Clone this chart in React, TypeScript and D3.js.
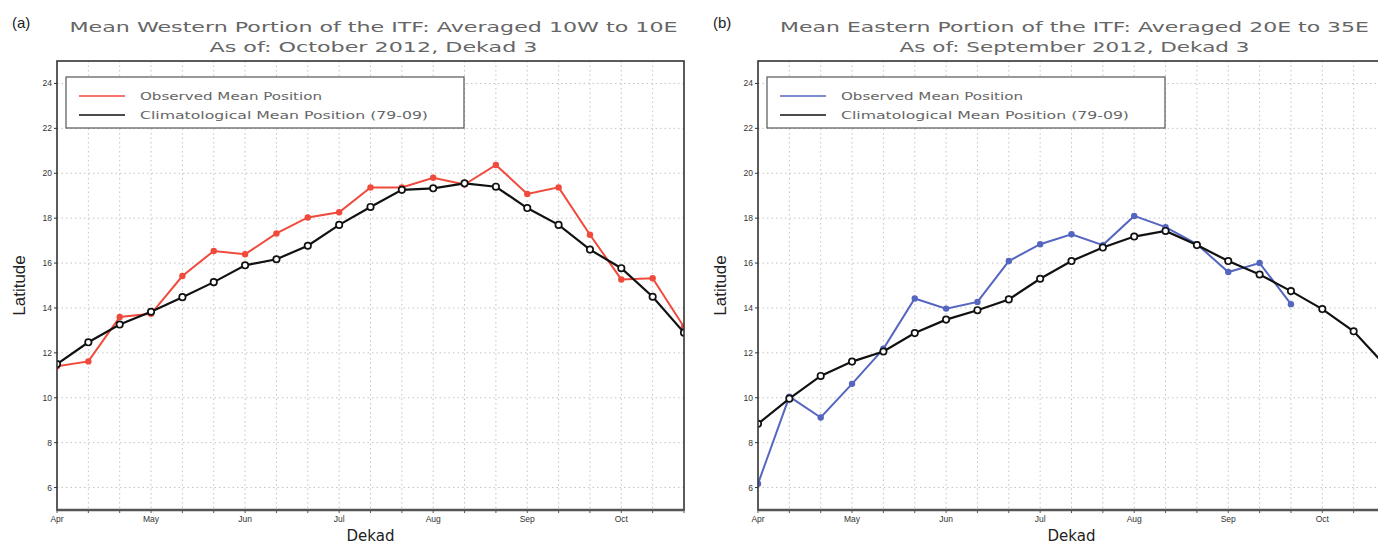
import * as d3 from 'd3'

// dekads from Apr dekad 1 (index 0) to Oct dekad 3 (index 20)
const monthLabels = ['Apr', 'May', 'Jun', 'Jul', 'Aug', 'Sep', 'Oct']
const yTicks = [6, 8, 10, 12, 14, 16, 18, 20, 22, 24]

const westObserved = [11.4, 11.62, 13.6, 13.74, 15.42, 16.54, 16.39, 17.32, 18.03, 18.26, 19.37, 19.37, 19.8, 19.5, 20.37, 19.08, 19.37, 17.26, 15.27, 15.32, 13.15]
const westClimatology = [11.5, 12.47, 13.26, 13.83, 14.48, 15.15, 15.9, 16.17, 16.77, 17.7, 18.5, 19.26, 19.33, 19.55, 19.4, 18.45, 17.7, 16.6, 15.77, 14.5, 12.9]

const eastObserved = [6.17, 10.05, 9.12, 10.62, 12.18, 14.42, 13.97, 14.27, 16.09, 16.84, 17.28, 16.8, 18.1, 17.6, 16.84, 15.6, 16.0, 14.17]
const eastClimatology = [8.84, 9.96, 10.97, 11.61, 12.06, 12.88, 13.48, 13.9, 14.38, 15.3, 16.09, 16.69, 17.18, 17.43, 16.8, 16.09, 15.49, 14.75, 13.95, 12.96, 11.45]

const DEKADS = 20
const TITLE_FONT = '"DejaVu Sans", sans-serif'
const LABEL_FONT = '"Liberation Sans", Arial, sans-serif'

type PanelProps = {
  tag: string
  title1: string
  title2: string
  title1Len: number
  title2Len: number
  left: number
  observed: number[]
  climatology: number[]
  color: string
}

function Panel({ tag, title1, title2, title1Len, title2Len, left, observed, climatology, color }: PanelProps) {
  const top = 61
  const bottom = 510
  const width = 627
  const x = d3.scaleLinear().domain([0, DEKADS]).range([left, left + width])
  const y = d3.scaleLinear().domain([5, 25]).range([bottom, top])
  const line = d3.line<number>().x((_, i) => x(i)).y(d => y(d))
  const cx = left + width / 2 + 3
  const clipId = `clip-${tag}`

  return (
    <g>
      <defs>
        <clipPath id={clipId}>
          <rect x={left} y={top - 6} width={width} height={bottom - top + 12} />
        </clipPath>
      </defs>

      {/* panel tag and title */}
      <text x={left - 45} y={28} fontFamily={LABEL_FONT} fontSize={15} fill="#222">({tag})</text>
      <text x={cx} y={32} textAnchor="middle" fontFamily={TITLE_FONT} fontSize={14}
        fill="#666" textLength={title1Len} lengthAdjust="spacingAndGlyphs">{title1}</text>
      <text x={cx} y={52} textAnchor="middle" fontFamily={TITLE_FONT} fontSize={14}
        fill="#666" textLength={title2Len} lengthAdjust="spacingAndGlyphs">{title2}</text>

      {/* grid */}
      {d3.range(1, DEKADS).map(i => (
        <line key={'gx' + i} x1={x(i)} x2={x(i)} y1={top} y2={bottom}
          stroke="#c4c4c4" strokeWidth={1} strokeDasharray="1.5,3" />
      ))}
      {yTicks.map(t => (
        <line key={'gy' + t} x1={left} x2={left + width} y1={y(t)} y2={y(t)}
          stroke="#c4c4c4" strokeWidth={1} strokeDasharray="1.5,3" />
      ))}

      {/* legend */}
      <rect x={left + 9} y={77} width={398} height={51} fill="#fff" stroke="#555" strokeWidth={1.2} />
      <line x1={left + 22} x2={left + 68} y1={96} y2={96} stroke={color} strokeWidth={1.6} />
      <line x1={left + 22} x2={left + 68} y1={115} y2={115} stroke="#111" strokeWidth={1.6} />
      <text x={left + 83} y={100} fontFamily={TITLE_FONT} fontSize={10.5} fill="#666"
        textLength={182} lengthAdjust="spacingAndGlyphs">Observed Mean Position</text>
      <text x={left + 83} y={119} fontFamily={TITLE_FONT} fontSize={10.5} fill="#666"
        textLength={288} lengthAdjust="spacingAndGlyphs">Climatological Mean Position (79-09)</text>

      {/* series */}
      <g clipPath={`url(#${clipId})`}>
        <path d={line(observed) || ''} fill="none" stroke={color} strokeWidth={2} />
        {observed.map((v, i) => (
          <circle key={'o' + i} cx={x(i)} cy={y(v)} r={3.2} fill={color} />
        ))}
        <path d={line(climatology) || ''} fill="none" stroke="#111" strokeWidth={2.2} />
        {climatology.map((v, i) => (
          <circle key={'c' + i} cx={x(i)} cy={y(v)} r={3.2} fill="#fff" stroke="#111" strokeWidth={1.7} />
        ))}
      </g>

      {/* frame */}
      <rect x={left} y={top} width={width} height={bottom - top} fill="none" stroke="#333" strokeWidth={1.6} />
      <line x1={left} x2={left + width} y1={bottom} y2={bottom} stroke="#555" strokeWidth={2.6} />

      {/* y axis */}
      {yTicks.map(t => (
        <g key={'ty' + t}>
          <line x1={left - 3} x2={left} y1={y(t)} y2={y(t)} stroke="#333" strokeWidth={1} />
          <text x={left - 5} y={y(t) + 3} textAnchor="end" fontFamily={LABEL_FONT} fontSize={8.5} fill="#333">{t}</text>
        </g>
      ))}
      <text transform={`translate(${left - 32},${(top + bottom) / 2}) rotate(-90)`} textAnchor="middle"
        fontFamily={LABEL_FONT} fontSize={17} fill="#222">Latitude</text>

      {/* x axis */}
      {d3.range(0, DEKADS + 1).map(i => (
        <line key={'tx' + i} x1={x(i)} x2={x(i)} y1={bottom} y2={bottom + 3} stroke="#555" strokeWidth={1} />
      ))}
      {monthLabels.map((m, i) => (
        <text key={m} x={x(i * 3)} y={522} textAnchor="middle" fontFamily={LABEL_FONT} fontSize={8.5} fill="#333">{m}</text>
      ))}
      <text x={left + width / 2} y={541} textAnchor="middle" fontFamily={TITLE_FONT} fontSize={15} fill="#222">Dekad</text>
    </g>
  )
}

export default function App() {
  return (
    <div style={{ position: 'fixed', left: 0, top: 0, width: 1378, height: 545, background: '#fff' }}>
      <svg width={1378} height={545} viewBox="0 0 1378 545" style={{ display: 'block' }}>
        <rect width={1378} height={545} fill="#fff" />
        <Panel tag="a" title1="Mean Western Portion of the ITF: Averaged 10W to 10E"
          title2="As of: October 2012, Dekad 3" title1Len={608} title2Len={328}
          left={57} observed={westObserved} climatology={westClimatology} color="#f04a3c" />
        <Panel tag="b" title1="Mean Eastern Portion of the ITF: Averaged 20E to 35E"
          title2="As of: September 2012, Dekad 3" title1Len={589} title2Len={350}
          left={758} observed={eastObserved} climatology={eastClimatology} color="#5566c0" />
      </svg>
    </div>
  )
}
